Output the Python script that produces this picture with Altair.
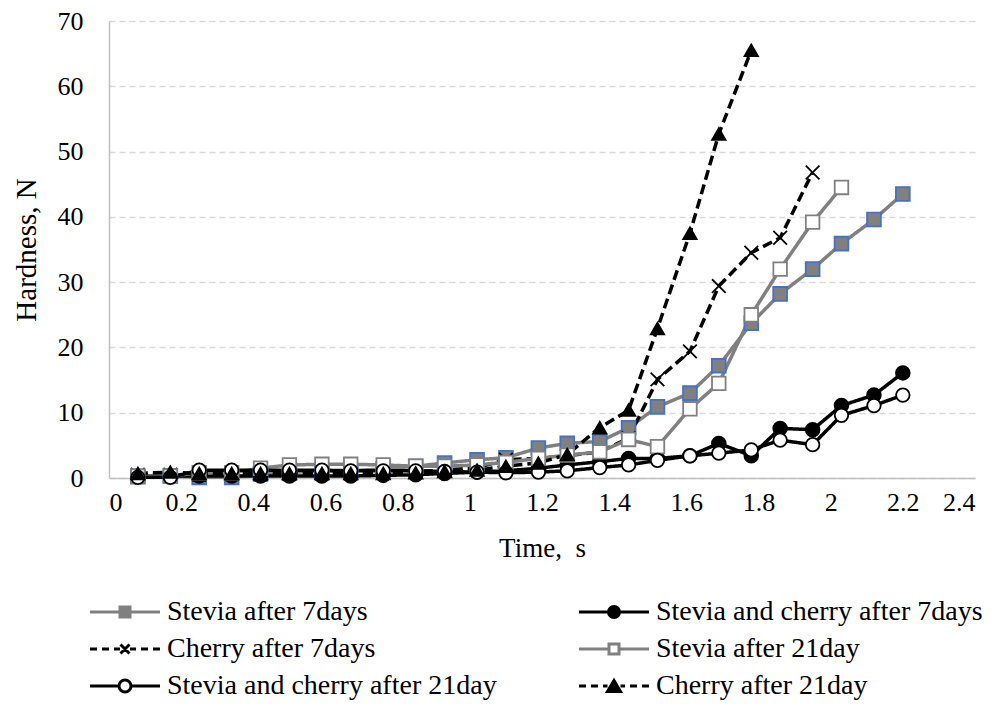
import altair as alt
import pandas as pd

# ---------------- data ----------------
times = [0.08, 0.17, 0.25, 0.34, 0.42, 0.50, 0.59, 0.67, 0.76, 0.85, 0.93, 1.02, 1.10,
         1.19, 1.27, 1.36, 1.44, 1.52, 1.61, 1.69, 1.78, 1.86, 1.95, 2.03, 2.12, 2.20]

series_names = [
    "Stevia after 7days",
    "Stevia and cherry after 7days",
    "Cherry after 7days",
    "Stevia after 21day",
    "Stevia and cherry after 21day",
    "Cherry after 21day",
]

stevia_7 = [0.2, 0.3, 0.1, 0.1, 0.6, 0.9, 1.0, 1.1, 1.4, 1.8, 2.3, 2.8, 3.1, 4.6, 5.3, 5.6,
            7.7, 10.9, 13.0, 17.2, 23.7, 28.2, 32.0, 35.9, 39.6, 43.5]
stevia_cherry_7 = [0.3, 0.3, 0.3, 0.3, 0.3, 0.3, 0.3, 0.3, 0.4, 0.5, 0.7, 0.9, 1.1, 1.5, 2.0,
                   2.5, 3.0, 3.0, 3.4, 5.3, 3.4, 7.6, 7.4, 11.1, 12.7, 16.1]
cherry_7 = [0.5, 0.5, 0.5, 0.6, 0.6, 0.6, 0.7, 0.7, 0.8, 1.0, 1.2, 1.6, 2.8, 3.0, 3.4, 4.0,
            6.1, 15.1, 19.4, 29.4, 34.5, 36.8, 46.8]
stevia_21 = [0.3, 0.3, 0.8, 0.8, 1.5, 2.0, 2.1, 2.1, 2.0, 1.8, 1.8, 2.0, 2.4, 3.0, 3.5, 4.0,
             5.9, 4.8, 10.6, 14.5, 25.0, 32.0, 39.2, 44.5]
stevia_cherry_21 = [0.1, 0.1, 1.2, 1.2, 1.2, 1.2, 1.2, 1.1, 1.1, 1.1, 1.0, 0.9, 0.8, 0.9, 1.1,
                    1.6, 2.0, 2.7, 3.4, 3.8, 4.3, 5.8, 5.1, 9.6, 11.1, 12.7]
cherry_21 = [0.7, 0.9, 0.7, 0.7, 0.7, 0.7, 0.7, 0.7, 0.7, 0.8, 1.0, 1.2, 1.8, 2.3, 3.6, 7.7,
             10.4, 22.9, 37.5, 52.7, 65.5]

x_ticks = [0, 0.2, 0.4, 0.6, 0.8, 1, 1.2, 1.4, 1.6, 1.8, 2, 2.2, 2.4]
y_ticks = [0, 10, 20, 30, 40, 50, 60, 70]

all_values = [stevia_7, stevia_cherry_7, cherry_7, stevia_21, stevia_cherry_21, cherry_21]
rows = []
for name, vals in zip(series_names, all_values):
    for t, v in zip(times, vals):
        rows.append({"time": t, "hardness": v, "series": name})
df = pd.DataFrame(rows)

# ---------------- styles ----------------
FONT = "Liberation Serif"
GRAY = "#808080"
BLUE = "#4472C4"
BLACK = "#000000"
WHITE = "#ffffff"

line_colors = [GRAY, BLACK, BLACK, GRAY, BLACK, BLACK]
line_dashes = [[1, 0], [1, 0], [10, 5], [1, 0], [1, 0], [10, 5]]
marker_shapes = ["square", "circle", "M-1,-1L1,1M-1,1L1,-1", "square", "circle", "triangle-up"]
marker_fills = [GRAY, BLACK, BLACK, WHITE, WHITE, BLACK]
marker_strokes = [BLUE, BLACK, BLACK, GRAY, BLACK, BLACK]
marker_sizes = [190, 180, 180, 190, 260, 380]

# legend symbol paths (symbolSize 100 -> 1 unit = 5 px, symbol spans -7 .. 7 units = 70 px)
HALF = 7


def solid(m):
    return f"M-{HALF},0L-{m},0M{m},0L{HALF},0"


def dashed(m):
    segs = [(-HALF, -5.6), (-4.6, -3.2), (-2.2, -m)]
    out = ""
    for a, b in segs:
        out += f"M{a},0L{b},0M{-b},0L{-a},0"
    return out


def sq(s):
    return f"M-{s},-{s}L{s},-{s}L{s},{s}L-{s},{s}Z"


def circ(r):
    return f"M-{r},0A{r},{r} 0 1,1 {r},0A{r},{r} 0 1,1 -{r},0Z"


def cross(s):
    return f"M-{s},-{s}L{s},{s}M-{s},{s}L{s},-{s}"


def tri(w, h):
    return f"M0,-{h}L{w},{h}L-{w},{h}Z"


legend_paths = [
    solid(1.0) + sq(1.0),
    solid(1.1) + circ(1.1),
    dashed(1.0) + cross(0.9),
    solid(1.0) + sq(1.0),
    solid(1.2) + circ(1.2),
    dashed(1.3) + tri(1.3, 1.1),
]
legend_fills = [GRAY, BLACK, BLACK, WHITE, WHITE, BLACK]
legend_strokes = [GRAY, BLACK, BLACK, GRAY, BLACK, BLACK]

# ---------------- chart ----------------
PLOT_W = 866
PLOT_H = 457

x_enc = alt.X(
    "time:Q",
    scale=alt.Scale(domain=[0, 2.4], nice=False, zero=False),
    axis=alt.Axis(values=x_ticks, format="~g", title="Time,\u00a0 s", grid=False,
                  labelPadding=11, titleX=PLOT_W / 2, titleY=70, titleBaseline="middle",
                  titleAlign="center"),
)
y_enc = alt.Y(
    "hardness:Q",
    scale=alt.Scale(domain=[0, 70], nice=False),
    axis=alt.Axis(values=y_ticks, title="Hardness, N", grid=True, gridDash=[6, 4],
                  gridColor="#D9D9D9", gridWidth=1.3, labelPadding=26,
                  titleX=-83, titleY=PLOT_H / 2, titleAngle=-90, titleBaseline="middle",
                  titleAlign="center", titleFontSize=29),
)

base = alt.Chart(df)

lines = base.mark_line(strokeWidth=3.5).encode(
    x=x_enc,
    y=y_enc,
    color=alt.Color("series:N", scale=alt.Scale(domain=series_names, range=line_colors),
                    legend=None),
    strokeDash=alt.StrokeDash("series:N",
                              scale=alt.Scale(domain=series_names, range=line_dashes),
                              legend=None),
)

points = base.mark_point(filled=True, opacity=1, strokeWidth=1.8).encode(
    x=x_enc,
    y=y_enc,
    shape=alt.Shape("series:N", scale=alt.Scale(domain=series_names, range=marker_shapes),
                    legend=None),
    fill=alt.Fill("series:N", scale=alt.Scale(domain=series_names, range=marker_fills),
                  legend=None),
    stroke=alt.Stroke("series:N", scale=alt.Scale(domain=series_names, range=marker_strokes),
                      legend=None),
    size=alt.Size("series:N", scale=alt.Scale(domain=series_names, range=marker_sizes),
                  legend=None),
)

leg = alt.Legend(
    title=None, orient="none", legendX=-19, legendY=577, columns=2, columnPadding=76,
    direction="horizontal",
    rowPadding=9, symbolSize=100, symbolStrokeWidth=3, symbolOffset=21,
    labelFont=FONT, labelFontSize=28, labelColor=BLACK, labelOffset=28, labelLimit=0,
    padding=0, symbolLimit=0,
)

legend_layer = base.transform_filter("false").mark_point(filled=True, opacity=1).encode(
    x=x_enc,
    y=y_enc,
    shape=alt.Shape("series:N", scale=alt.Scale(domain=series_names, range=legend_paths),
                    legend=leg),
    fill=alt.Fill("series:N", scale=alt.Scale(domain=series_names, range=legend_fills),
                  legend=leg),
    stroke=alt.Stroke("series:N", scale=alt.Scale(domain=series_names, range=legend_strokes),
                      legend=leg),
)

chart = (
    alt.layer(lines, points, legend_layer)
    .resolve_scale(shape="independent", fill="independent", stroke="independent")
    .properties(
        width=PLOT_W,
        height=PLOT_H,
        autosize=alt.AutoSizeParams(type="none"),
        padding={"left": 101, "top": 13, "right": 18, "bottom": 225},
        background="white",
    )
    .configure_view(stroke=None)
    .configure_axis(
        labelFont=FONT, labelFontSize=26, labelColor=BLACK,
        titleFont=FONT, titleFontSize=27, titleColor=BLACK, titleFontWeight="normal",
        domainColor="#BFBFBF", domainWidth=1.5, ticks=False,
    )
)

chart.save("out.html", embed_options={"renderer": "svg", "actions": False})
